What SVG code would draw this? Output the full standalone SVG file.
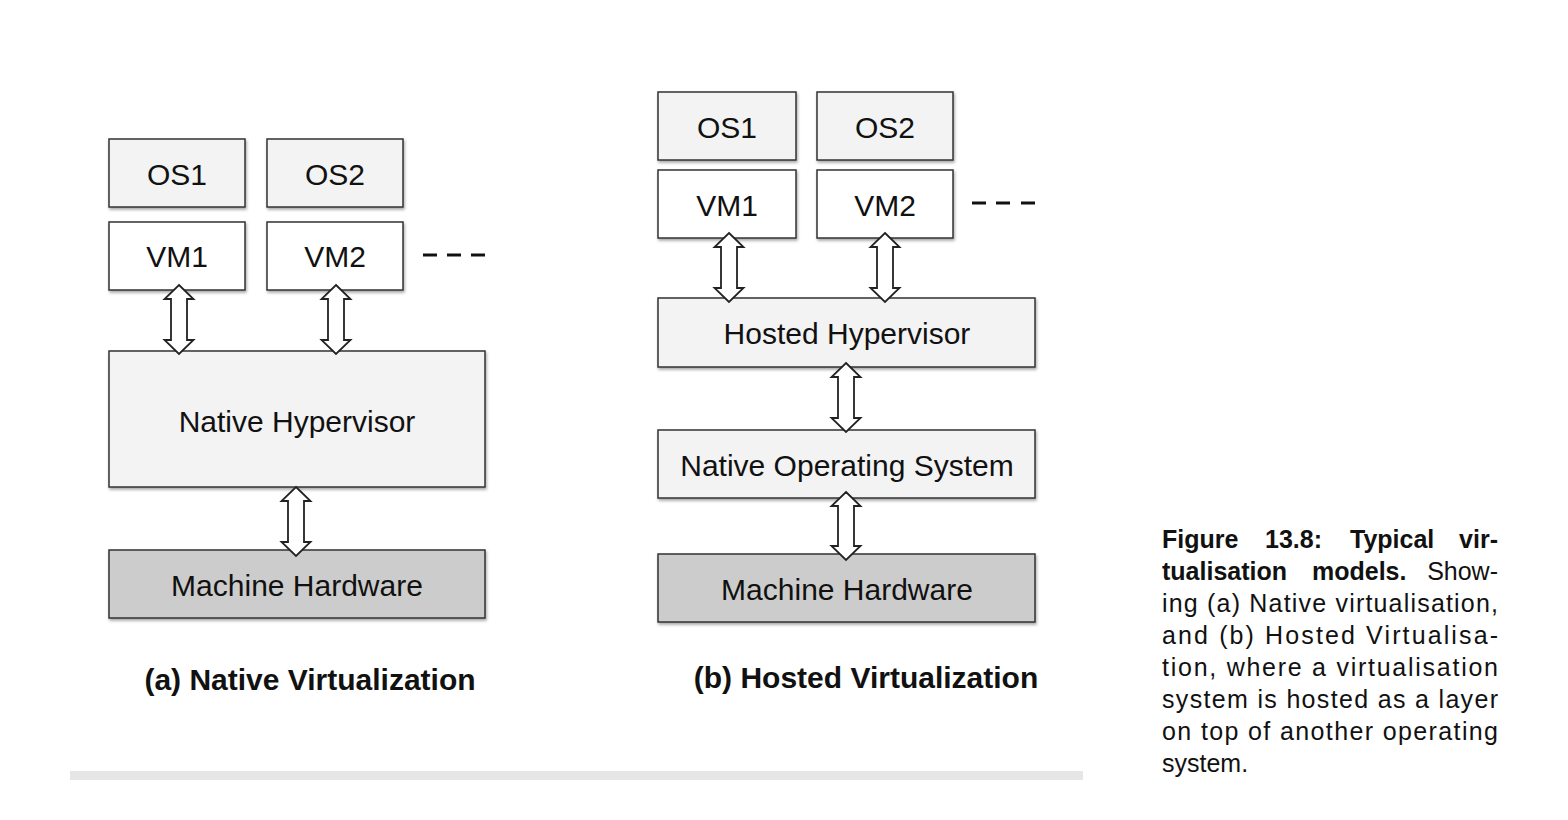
<svg xmlns="http://www.w3.org/2000/svg" width="1568" height="820" viewBox="0 0 1568 820">
<defs>
<filter id="sh" x="-5%" y="-10%" width="115%" height="130%">
<feDropShadow dx="1" dy="2" stdDeviation="1.5" flood-color="#000" flood-opacity="0.35"/>
</filter>
<style>
.box{stroke:#333;stroke-width:1.5;filter:url(#sh)}
.os{fill:#f3f3f3}
.vm{fill:#ffffff}
.hv{fill:#f3f3f3}
.hw{fill:#cccccc}
.lbl{font-family:"Liberation Sans",Arial,sans-serif;font-size:30px;fill:#111;text-anchor:middle}
.cap{font-family:"Liberation Sans",Arial,sans-serif;font-size:30px;font-weight:bold;fill:#111;text-anchor:middle}
.arr{fill:#fff;stroke:#222;stroke-width:1.8;stroke-linejoin:miter}
.dash{stroke:#111;stroke-width:3}
.fig{font-family:"Liberation Sans",Arial,sans-serif;font-size:25px;fill:#111}
.b{font-weight:bold}
</style>
</defs>
<rect width="1568" height="820" fill="#fff"/>

<!-- Left diagram -->
<g id="a-os1"><rect class="box os" x="109" y="139" width="136" height="68"/><text class="lbl" x="177" y="185">OS1</text></g>
<g id="a-os2"><rect class="box os" x="267" y="139" width="136" height="68"/><text class="lbl" x="335" y="185">OS2</text></g>
<g id="a-vm1"><rect class="box vm" x="109" y="222" width="136" height="68"/><text class="lbl" x="177" y="267">VM1</text></g>
<g id="a-vm2"><rect class="box vm" x="267" y="222" width="136" height="68"/><text class="lbl" x="335" y="267">VM2</text></g>
<g id="a-hyp"><rect class="box hv" x="109" y="351" width="376" height="136"/><text class="lbl" x="297" y="432">Native Hypervisor</text></g>
<g id="a-hw"><rect class="box hw" x="109" y="550" width="376" height="68"/><text class="lbl" x="297" y="596">Machine Hardware</text></g>
<g id="a-more">
<line class="dash" x1="423" y1="255" x2="437" y2="255"/>
<line class="dash" x1="447" y1="255" x2="461" y2="255"/>
<line class="dash" x1="471" y1="255" x2="485" y2="255"/>
</g>

<!-- Right diagram -->
<g id="b-os1"><rect class="box os" x="658" y="92" width="138" height="68"/><text class="lbl" x="727" y="138">OS1</text></g>
<g id="b-os2"><rect class="box os" x="817" y="92" width="136" height="68"/><text class="lbl" x="885" y="138">OS2</text></g>
<g id="b-vm1"><rect class="box vm" x="658" y="170" width="138" height="68"/><text class="lbl" x="727" y="216">VM1</text></g>
<g id="b-vm2"><rect class="box vm" x="817" y="170" width="136" height="68"/><text class="lbl" x="885" y="216">VM2</text></g>
<g id="b-hyp"><rect class="box hv" x="658" y="298" width="377" height="69"/><text class="lbl" x="847" y="344">Hosted Hypervisor</text></g>
<g id="b-nos"><rect class="box hv" x="658" y="430" width="377" height="68"/><text class="lbl" x="847" y="476">Native Operating System</text></g>
<g id="b-hw"><rect class="box hw" x="658" y="554" width="377" height="68"/><text class="lbl" x="847" y="600">Machine Hardware</text></g>
<g id="b-more">
<line class="dash" x1="972" y1="203" x2="986" y2="203"/>
<line class="dash" x1="996" y1="203" x2="1010" y2="203"/>
<line class="dash" x1="1021" y1="203" x2="1035" y2="203"/>
</g>

<!-- Connectors -->
<g id="connectors">
<path class="arr" d="M179,285 L193.5,299 L187,299 L187,340 L193.5,340 L179,354 L164.5,340 L171,340 L171,299 L164.5,299 Z"/>
<path class="arr" d="M336,285 L350.5,299 L344,299 L344,340 L350.5,340 L336,354 L321.5,340 L328,340 L328,299 L321.5,299 Z"/>
<path class="arr" d="M296,487 L310.5,501 L304,501 L304,542 L310.5,542 L296,556 L281.5,542 L288,542 L288,501 L281.5,501 Z"/>
<path class="arr" d="M729,233 L743.5,247 L737,247 L737,288 L743.5,288 L729,302 L714.5,288 L721,288 L721,247 L714.5,247 Z"/>
<path class="arr" d="M885,233 L899.5,247 L893,247 L893,288 L899.5,288 L885,302 L870.5,288 L877,288 L877,247 L870.5,247 Z"/>
<path class="arr" d="M846,363 L860.5,377 L854,377 L854,418 L860.5,418 L846,432 L831.5,418 L838,418 L838,377 L831.5,377 Z"/>
<path class="arr" d="M846,492 L860.5,506 L854,506 L854,546 L860.5,546 L846,560 L831.5,546 L838,546 L838,506 L831.5,506 Z"/>
</g>

<!-- Sub-captions -->
<text class="cap" x="310" y="690">(a) Native Virtualization</text>
<text class="cap" x="866" y="688">(b) Hosted Virtualization</text>

<!-- bar -->
<rect x="70" y="771" width="1013" height="9" fill="#e6e6e6"/>

<!-- Figure caption -->
<g id="caption" class="fig">
<text class="b" x="1162" y="548">Figure</text>
<text class="b" x="1265" y="548">13.8:</text>
<text class="b" x="1350" y="548">Typical</text>
<text class="b" x="1498" y="548" text-anchor="end">vir-</text>
<text class="b" x="1162" y="580">tualisation</text>
<text class="b" x="1312" y="580">models.</text>
<text x="1498" y="580" text-anchor="end">Show-</text>
<text x="1162" y="612" textLength="336" lengthAdjust="spacing">ing (a) Native virtualisation,</text>
<text x="1162" y="644" textLength="336" lengthAdjust="spacing">and (b) Hosted Virtualisa-</text>
<text x="1162" y="676" textLength="336" lengthAdjust="spacing">tion, where a virtualisation</text>
<text x="1162" y="708" textLength="336" lengthAdjust="spacing">system is hosted as a layer</text>
<text x="1162" y="740" textLength="336" lengthAdjust="spacing">on top of another operating</text>
<text x="1162" y="772">system.</text>
</g>
</svg>
